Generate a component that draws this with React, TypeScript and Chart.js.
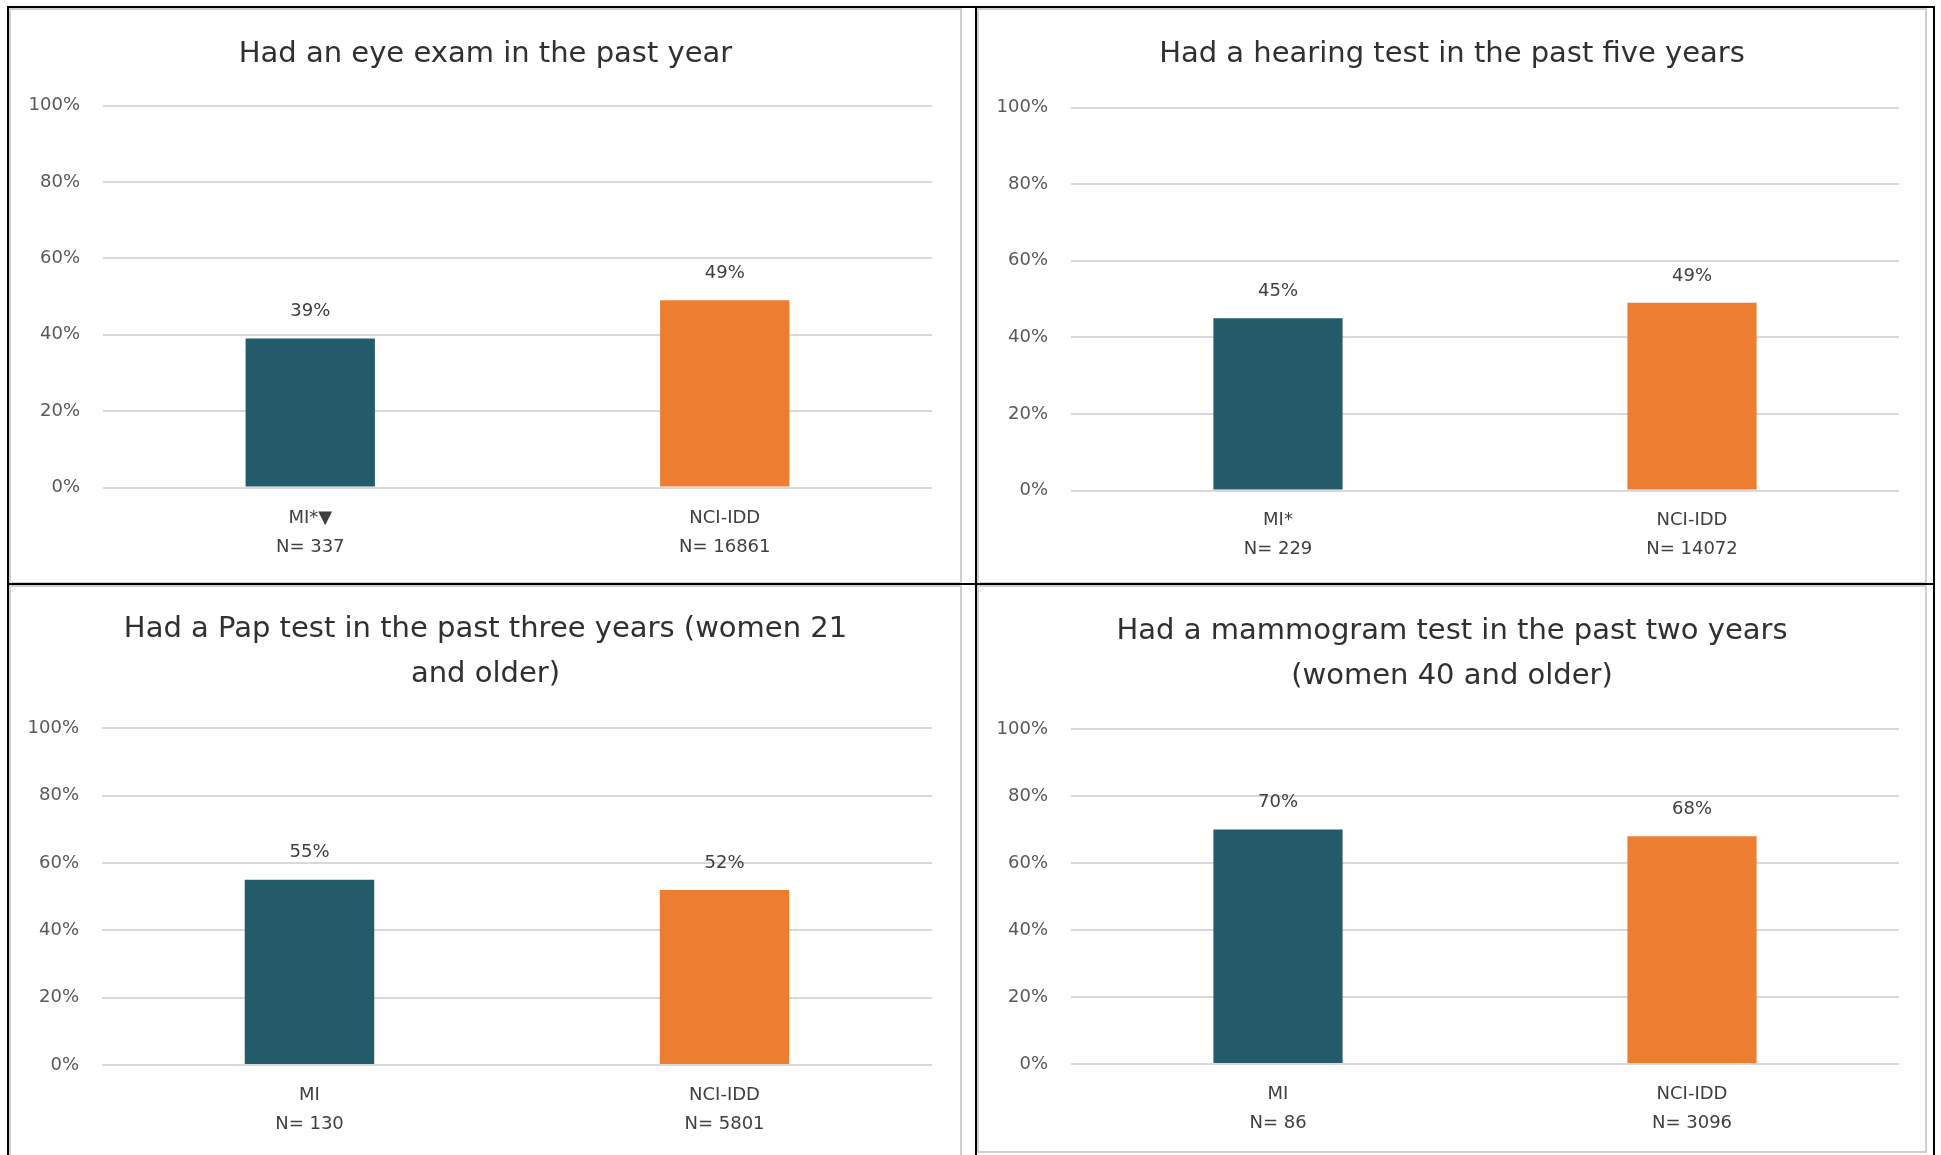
import React, { useEffect, useRef } from "react";
import { Chart, registerables } from "chart.js";

Chart.register(...registerables);

// ---------- data ----------
const eyeTitle = ["Had an eye exam in the past year"];
const eyeCategories = [["MI*▼", "N= 337"], ["NCI-IDD", "N= 16861"]];
const eyeValues = [39, 49];

const hearingTitle = ["Had a hearing test in the past five years"];
const hearingCategories = [["MI*", "N= 229"], ["NCI-IDD", "N= 14072"]];
const hearingValues = [45, 49];

const papTitle = ["Had a Pap test in the past three years (women 21", "and older)"];
const papCategories = [["MI", "N= 130"], ["NCI-IDD", "N= 5801"]];
const papValues = [55, 52];

const mammoTitle = ["Had a mammogram test in the past two years", "(women 40 and older)"];
const mammoCategories = [["MI", "N= 86"], ["NCI-IDD", "N= 3096"]];
const mammoValues = [70, 68];

const yMin = 0;
const yMax = 100;
const yStep = 20;
const barColors = ["#235B6B", "#ED7D31"];

// ---------- styles ----------
const FONT = "'DejaVu Sans', sans-serif";
const TITLE_COLOR = "#303030";
const TICK_COLOR = "#595959";
const LABEL_COLOR = "#404040";
const GRID_COLOR = "#d9d9d9";

const valueLabelPlugin = {
  id: "valueLabels",
  afterDatasetsDraw(chart: any) {
    const ctx = chart.ctx;
    ctx.save();
    ctx.font = `18px ${FONT}`;
    ctx.fillStyle = LABEL_COLOR;
    ctx.textAlign = "center";
    ctx.textBaseline = "middle";
    chart.data.datasets.forEach((ds: any, di: number) => {
      const meta = chart.getDatasetMeta(di);
      meta.data.forEach((bar: any, i: number) => {
        ctx.fillText(Math.round(ds.data[i]) + "%", bar.x, bar.y - 27);
      });
    });
    ctx.restore();
  },
};

type PanelSpec = {
  left: number;
  top: number;
  width: number;
  height: number;
  plotLeft: number;
  plotRight: number;
  plotTop: number;
  plotBottom: number;
  titleLines: string[];
  titleLineHeight: number;
  titlePadTop: number;
  xLabelPad: number;
  categories: string[][];
  values: number[];
};

function ChartPanel({ spec }: { spec: PanelSpec }) {
  const ref = useRef<HTMLCanvasElement | null>(null);
  const cw = spec.width - 4;
  const ch = spec.height - 4;

  useEffect(() => {
    if (!ref.current) return;
    const titleBlock = spec.titleLines.length * spec.titleLineHeight;
    const padBottom = spec.plotTop - spec.titlePadTop - titleBlock;
    const chart = new Chart(ref.current, {
      type: "bar",
      data: {
        labels: spec.categories,
        datasets: [
          {
            data: spec.values,
            backgroundColor: barColors,
            borderWidth: 0,
            barPercentage: 0.312,
            categoryPercentage: 1,
          },
        ],
      },
      options: {
        animation: false,
        responsive: false,
        devicePixelRatio: 1,
        layout: {
          padding: { top: 0, left: 0, bottom: 0, right: 0 },
        },
        plugins: {
          legend: { display: false },
          tooltip: { enabled: false },
          title: {
            display: true,
            text: spec.titleLines,
            color: TITLE_COLOR,
            align: "center",
            font: {
              family: FONT,
              size: 29,
              weight: "normal",
              lineHeight: spec.titleLineHeight + "px",
            },
            padding: { top: spec.titlePadTop, bottom: padBottom },
          },
        },
        scales: {
          x: {
            grid: { display: false, drawTicks: false },
            border: { display: false },
            ticks: {
              autoSkip: false,
              maxRotation: 0,
              color: LABEL_COLOR,
              padding: spec.xLabelPad,
              font: { family: FONT, size: 18, lineHeight: "29px" },
            },
            afterFit: (scale: any) => {
              scale.height = ch - spec.plotBottom;
            },
          },
          y: {
            min: yMin,
            max: yMax,
            grid: { color: GRID_COLOR, lineWidth: 2, drawTicks: false },
            border: { display: false },
            ticks: {
              stepSize: yStep,
              padding: 23,
              color: TICK_COLOR,
              font: { family: FONT, size: 18 },
              callback: (v: any) => v + "%",
            },
            afterFit: (scale: any) => {
              scale.width = spec.plotLeft;
            },
          },
          ySpacer: {
            type: "linear",
            position: "right",
            display: true,
            grid: { display: false, drawTicks: false },
            border: { display: false },
            ticks: { display: false },
            afterFit: (scale: any) => {
              scale.width = cw - spec.plotRight;
            },
          },
        },
      },
      plugins: [valueLabelPlugin],
    } as any);
    return () => chart.destroy();
  }, []);

  return (
    <div
      style={{
        position: "absolute",
        left: spec.left,
        top: spec.top,
        width: spec.width,
        height: spec.height,
        border: "2px solid #cfcfcf",
        boxSizing: "border-box",
        overflow: "hidden",
        background: "#fff",
      }}
    >
      <canvas ref={ref} width={cw} height={ch} style={{ display: "block", width: cw, height: ch }} />
    </div>
  );
}

const panels: PanelSpec[] = [
  {
    left: 9, top: 8, width: 953, height: 576,
    plotLeft: 92, plotRight: 921, plotTop: 95.5, plotBottom: 477.5,
    titleLines: eyeTitle, titleLineHeight: 36, titlePadTop: 26, xLabelPad: 16.5,
    categories: eyeCategories, values: eyeValues,
  },
  {
    left: 977, top: 8, width: 950, height: 576,
    plotLeft: 92, plotRight: 920, plotTop: 97.5, plotBottom: 480.5,
    titleLines: hearingTitle, titleLineHeight: 36, titlePadTop: 26, xLabelPad: 15.5,
    categories: hearingCategories, values: hearingValues,
  },
  {
    left: 9, top: 585, width: 953, height: 575,
    plotLeft: 91, plotRight: 921, plotTop: 141.3, plotBottom: 478,
    titleLines: papTitle, titleLineHeight: 45, titlePadTop: 20, xLabelPad: 15.5,
    categories: papCategories, values: papValues,
  },
  {
    left: 977, top: 585, width: 950, height: 568,
    plotLeft: 92, plotRight: 920, plotTop: 142, plotBottom: 477,
    titleLines: mammoTitle, titleLineHeight: 45, titlePadTop: 21.5, xLabelPad: 15.5,
    categories: mammoCategories, values: mammoValues,
  },
];

const line = (left: number, top: number, width: number, height: number) => (
  <div style={{ position: "absolute", left, top, width, height, background: "#000" }} />
);

export default function App() {
  return (
    <div
      style={{
        position: "absolute",
        left: 0,
        top: 0,
        width: 1941,
        height: 1155,
        background: "#fff",
        overflow: "hidden",
      }}
    >
      {panels.map((p, i) => (
        <ChartPanel key={i} spec={p} />
      ))}
      {line(7, 6, 1928, 2)}
      {line(7, 6, 2, 1149)}
      {line(1933, 6, 2, 1149)}
      {line(975, 6, 2, 1149)}
      {line(7, 583, 1928, 2)}
    </div>
  );
}
